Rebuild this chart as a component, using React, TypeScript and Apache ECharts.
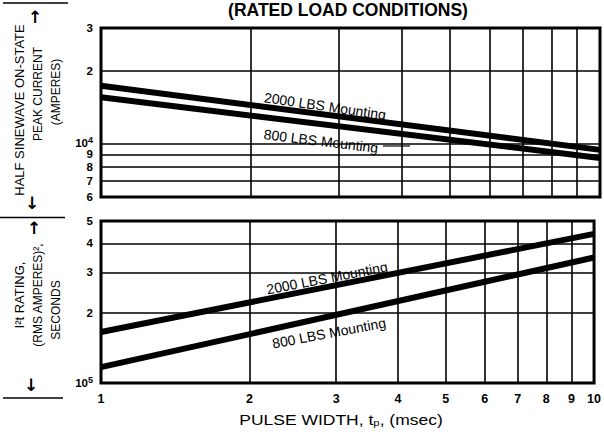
import React, { useEffect, useRef } from 'react';
import * as echarts from 'echarts';

// ---- data ----
const pulseWidth = [1, 10]; // msec
const peak2000 = [17300, 9400]; // amperes
const peak800 = [15500, 8700];
const i2t2000 = [166000, 440000]; // A^2 s
const i2t800 = [117000, 348000];

const xTicks = [1, 2, 3, 4, 5, 6, 7, 8, 9, 10];
const peakTicks = [6000, 7000, 8000, 9000, 10000, 20000, 30000];
const i2tTicks = [100000, 200000, 300000, 400000, 500000];

const FONT = '"Liberation Sans", Arial, Helvetica, sans-serif';

function logLabel(v: number): string {
  const e = Math.floor(Math.log10(v) + 1e-9);
  const m = Math.round(v / Math.pow(10, e));
  if (m === 1) return '10{sup|' + e + '}';
  return String(m);
}

const pairs = (xs: number[], ys: number[]) => xs.map((x, i) => [x, ys[i]]);

export default function App() {
  const ref = useRef<HTMLDivElement>(null);
  useEffect(() => {
    if (!ref.current) return;
    const chart = echarts.init(ref.current, null, { renderer: 'svg' });
    const split = { show: true, lineStyle: { color: '#000', width: 1.6 } };
    const labelRich = {
      sup: { fontSize: 9, fontWeight: 'bold', fontFamily: FONT, color: '#000', verticalAlign: 'top', padding: [0, 0, 6, 0] },
    };
    const xAxisBase = (gi: number, showLabel: boolean) => ({
      type: 'log',
      logBase: 10,
      gridIndex: gi,
      min: 1,
      max: 10,
      axisLine: { show: false },
      axisTick: { show: false, customValues: xTicks },
      axisLabel: {
        show: showLabel,
        customValues: xTicks,
        showMinLabel: true,
        showMaxLabel: true,
        formatter: (v: number) => String(Math.round(v)),
        fontFamily: FONT,
        fontWeight: 'bold',
        fontSize: 12.5,
        color: '#000',
        margin: 9,
      },
      splitLine: split,
    });
    const yAxisBase = (gi: number, min: number, max: number, ticks: number[]) => ({
      type: 'log',
      logBase: 10,
      gridIndex: gi,
      min,
      max,
      axisLine: { show: false },
      axisTick: { show: false, customValues: ticks },
      axisLabel: {
        customValues: ticks,
        showMinLabel: true,
        showMaxLabel: true,
        formatter: logLabel,
        fontFamily: FONT,
        fontWeight: 'bold',
        fontSize: 11.5,
        color: '#000',
        margin: 8,
        rich: labelRich,
      },
      splitLine: split,
    });
    const lineSeries = (xi: number, data: number[][]) => ({
      type: 'line',
      xAxisIndex: xi,
      yAxisIndex: xi,
      data,
      showSymbol: false,
      symbol: 'none',
      lineStyle: { color: '#000', width: 6 },
      silent: true,
    });
    const txt = (text: string, x: number, y: number, size: number, rotation = 0, weight = 'normal', family = FONT) => ({
      type: 'text',
      x,
      y,
      rotation,
      silent: true,
      style: {
        text,
        fill: '#000',
        font: `${weight} ${size}px ${family}`,
        align: 'center',
        verticalAlign: 'middle',
      },
    });
    const ln = (x1: number, y1: number, x2: number, y2: number, w = 1.5) => ({
      type: 'line',
      silent: true,
      shape: { x1, y1, x2, y2 },
      style: { stroke: '#000', lineWidth: w },
    });
    const R = Math.PI / 2;
    const ARROW = '"DejaVu Sans"';
    const option = {
      animation: false,
      backgroundColor: '#fff',
      grid: [
        { left: 101, top: 28, width: 499, height: 169, show: true, borderColor: '#000', borderWidth: 3, backgroundColor: 'transparent' },
        { left: 101, top: 221, width: 499, height: 162, show: true, borderColor: '#000', borderWidth: 3, backgroundColor: 'transparent' },
      ],
      xAxis: [xAxisBase(0, false), xAxisBase(1, true)],
      yAxis: [yAxisBase(0, 6000, 30000, peakTicks), yAxisBase(1, 100000, 500000, i2tTicks)],
      series: [
        lineSeries(0, pairs(pulseWidth, peak2000)),
        lineSeries(0, pairs(pulseWidth, peak800)),
        lineSeries(1, pairs(pulseWidth, i2t2000)),
        lineSeries(1, pairs(pulseWidth, i2t800)),
      ],
      graphic: [
        txt('(RATED LOAD CONDITIONS)', 348, 10, 17.5, 0, 'bold'),
        // left rules
        ln(3, 3, 68, 3),
        ln(0, 217.5, 65, 217.5),
        ln(3, 398, 63, 398),
        // top y title
        txt('HALF SINEWAVE ON-STATE', 19, 110, 13, R),
        txt('PEAK CURRENT', 38, 94, 12, R),
        txt('(AMPERES)', 56, 92, 12, R),
        txt('↑', 35, 17, 17, 0, 'bold', ARROW),
        txt('↓', 32, 203, 17, 0, 'bold', ARROW),
        // bottom y title
        txt('I²t RATING,', 19, 295, 13, R),
        txt('(RMS AMPERES)²,', 38, 295, 12, R),
        txt('SECONDS', 56, 310, 12, R),
        txt('↑', 34, 228, 17, 0, 'bold', ARROW),
        txt('↓', 31, 385, 17, 0, 'bold', ARROW),
        // annotations
        txt('2000 LBS Mounting', 325, 106, 14, -0.143),
        txt('800 LBS Mounting', 321, 141, 14, -0.12),
        ln(383, 146, 410, 146, 1.2),
        txt('2000 LBS Mounting', 327, 278, 14, 0.19),
        txt('800 LBS Mounting', 329, 333, 14, 0.185),
        // x title
        {
          type: 'text',
          x: 341,
          y: 420,
          scaleX: 1.25,
          silent: true,
          style: {
            text: 'PULSE WIDTH, t{sub|p}, (msec)',
            fill: '#000',
            font: `normal 14px ${FONT}`,
            align: 'center',
            verticalAlign: 'middle',
            rich: {
              sub: { fontSize: 9, fontFamily: FONT, fill: '#000', verticalAlign: 'bottom', padding: [6, 0, 0, 0] },
            },
          },
        },
      ],
    };
    chart.setOption(option as any);
    return () => chart.dispose();
  }, []);
  return <div ref={ref} style={{ position: 'fixed', left: 0, top: 0, width: 604, height: 436 }} />;
}
